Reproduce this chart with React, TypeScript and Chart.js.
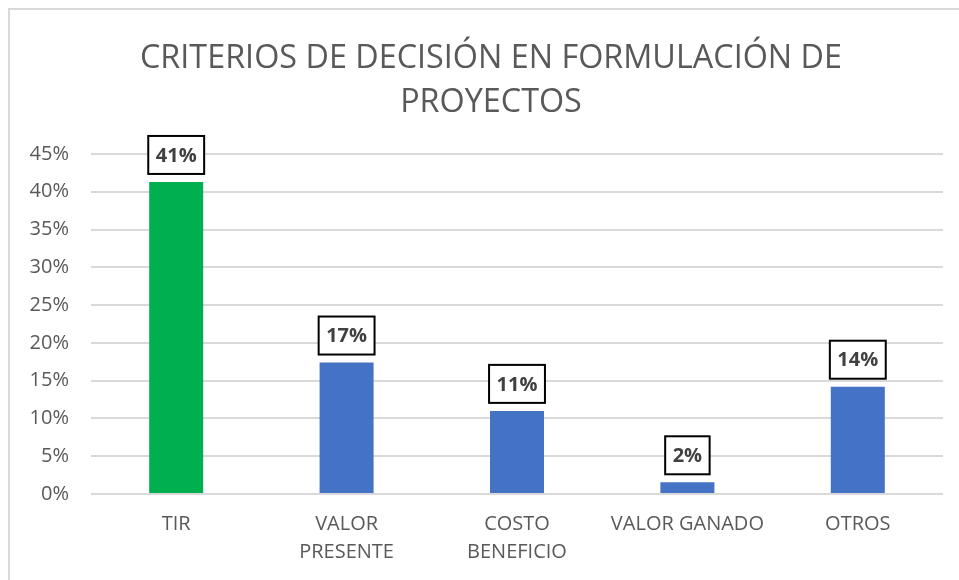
import React, { useEffect, useRef } from "react";
import { Chart, registerables } from "chart.js";

Chart.register(...registerables);

const titleLines = ["CRITERIOS DE DECISIÓN EN FORMULACIÓN DE", "PROYECTOS"];
const categories: (string | string[])[] = [
  "TIR",
  ["VALOR", "PRESENTE"],
  ["COSTO", "BENEFICIO"],
  "VALOR GANADO",
  "OTROS",
];
const shares = [0.413, 0.174, 0.11, 0.0155, 0.142];
const barColors = ["#00B050", "#4472C4", "#4472C4", "#4472C4", "#4472C4"];
const yTicks = [0, 0.05, 0.1, 0.15, 0.2, 0.25, 0.3, 0.35, 0.4, 0.45];

const FONT = '"Open Sans", "DejaVu Sans", sans-serif';

const titlePlugin = {
  id: "customTitle",
  afterDraw(chart: any) {
    const ctx = chart.ctx as CanvasRenderingContext2D;
    ctx.save();
    ctx.font = `33px ${FONT}`;
    ctx.fillStyle = "#595959";
    ctx.textAlign = "center";
    ctx.textBaseline = "alphabetic";
    const w = ctx.measureText(titleLines[0]).width;
    const sx = 702 / w;
    const cx = 481;
    const baselines = [58, 102];
    titleLines.forEach((line, i) => {
      ctx.save();
      ctx.translate(cx, baselines[i]);
      ctx.scale(sx, 1);
      ctx.fillText(line, 0, 0);
      ctx.restore();
    });
    ctx.restore();
  },
};

const labelPlugin = {
  id: "boxLabels",
  afterDatasetsDraw(chart: any) {
    const ctx = chart.ctx as CanvasRenderingContext2D;
    const meta = chart.getDatasetMeta(0);
    const data = chart.data.datasets[0].data as number[];
    ctx.save();
    ctx.font = `bold 20px ${FONT}`;
    meta.data.forEach((bar: any, i: number) => {
      const text = Math.round(data[i] * 100) + "%";
      const tw = ctx.measureText(text).width;
      const bw = tw + 15;
      const bh = 38;
      const bottom = bar.y - 8;
      const left = bar.x - bw / 2;
      const top = bottom - bh;
      ctx.fillStyle = "#ffffff";
      ctx.fillRect(left, top, bw, bh);
      ctx.lineWidth = 2;
      ctx.strokeStyle = "#000000";
      ctx.strokeRect(left, top, bw, bh);
      ctx.fillStyle = "#404040";
      ctx.textAlign = "center";
      ctx.textBaseline = "middle";
      ctx.fillText(text, bar.x, top + bh / 2 + 1);
    });
    ctx.restore();
  },
};

export default function App() {
  const ref = useRef<HTMLCanvasElement | null>(null);
  useEffect(() => {
    if (!ref.current) return;
    const chart = new Chart(ref.current, {
      type: "bar",
      data: {
        labels: categories,
        datasets: [
          {
            data: shares,
            backgroundColor: barColors,
            borderWidth: 0,
            categoryPercentage: 1,
            barPercentage: 0.317,
          },
        ],
      },
      options: {
        responsive: false,
        animation: false,
        devicePixelRatio: 1,
        layout: { padding: { top: 144, right: 16, bottom: 0, left: 0 } },
        plugins: {
          legend: { display: false },
          title: { display: false },
          tooltip: { enabled: false },
        },
        scales: {
          x: {
            grid: { display: false, drawTicks: false },
            border: { display: false },
            ticks: {
              color: "#595959",
              font: { family: FONT, size: 20, lineHeight: 1.4 },
              padding: 16,
              maxRotation: 0,
              autoSkip: false,
            },
            afterFit(scale: any) {
              scale.height = 86;
            },
          },
          y: {
            min: 0,
            max: 0.45,
            afterBuildTicks(scale: any) {
              scale.ticks = yTicks.map((v) => ({ value: v }));
            },
            grid: { color: "#d9d9d9", lineWidth: 2, drawTicks: false },
            border: { display: false },
            ticks: {
              color: "#595959",
              font: { family: FONT, size: 20 },
              padding: 22,
              callback: (v: any) => Math.round(Number(v) * 100) + "%",
            },
            afterFit(scale: any) {
              scale.width = 81;
            },
          },
        },
      },
      plugins: [titlePlugin, labelPlugin],
    });
    return () => chart.destroy();
  }, []);

  return (
    <div
      style={{
        position: "fixed",
        left: 8,
        top: 8,
        width: 951,
        height: 572,
        boxSizing: "border-box",
        borderTop: "2px solid #d9d9d9",
        borderLeft: "2px solid #d9d9d9",
        background: "#ffffff",
      }}
    >
      <canvas ref={ref} width={949} height={570} style={{ display: "block" }} />
    </div>
  );
}
